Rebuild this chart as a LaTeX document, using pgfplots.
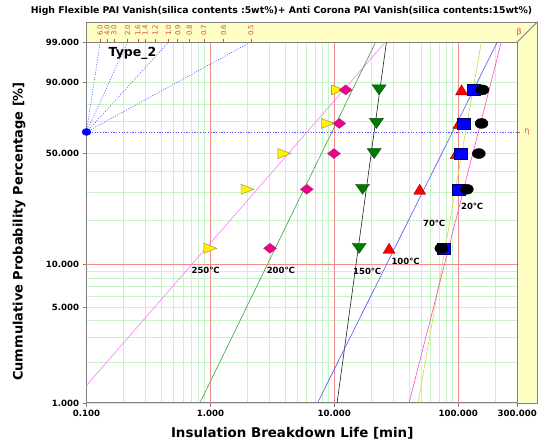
\documentclass[border=0pt]{standalone}
\usepackage{pgfplots}
\pgfplotsset{compat=1.18}
\usepackage{fontspec}
\setmainfont{DejaVu Sans}
\definecolor{bandyellow}{RGB}{255,255,196}
\definecolor{gridgreen}{RGB}{200,242,200}
\definecolor{gridred}{RGB}{240,140,140}
\definecolor{axgray}{RGB}{128,128,128}
\definecolor{betared}{RGB}{225,70,70}
\definecolor{dotblue}{RGB}{80,80,255}
\definecolor{lpink}{RGB}{255,120,255}
\definecolor{lgreen}{RGB}{60,160,60}
\definecolor{lblack}{RGB}{30,30,30}
\definecolor{lblue}{RGB}{80,80,255}
\definecolor{lyellow}{RGB}{215,215,60}
\definecolor{lmag}{RGB}{255,70,210}
\pgfdeclareplotmark{rtri}{\pgfpathmoveto{\pgfqpoint{-6.5pt}{5pt}}\pgfpathlineto{\pgfqpoint{6.5pt}{0pt}}\pgfpathlineto{\pgfqpoint{-6.5pt}{-5pt}}\pgfpathclose\pgfusepathqfillstroke}
\pgfdeclareplotmark{dtri}{\pgfpathmoveto{\pgfqpoint{-7pt}{5pt}}\pgfpathlineto{\pgfqpoint{7pt}{5pt}}\pgfpathlineto{\pgfqpoint{0pt}{-5pt}}\pgfpathclose\pgfusepathqfillstroke}
\pgfdeclareplotmark{utri}{\pgfpathmoveto{\pgfqpoint{-6pt}{-5pt}}\pgfpathlineto{\pgfqpoint{6pt}{-5pt}}\pgfpathlineto{\pgfqpoint{0pt}{5pt}}\pgfpathclose\pgfusepathqfillstroke}
\pgfdeclareplotmark{mydiam}{\pgfpathmoveto{\pgfqpoint{0pt}{5pt}}\pgfpathlineto{\pgfqpoint{6.5pt}{0pt}}\pgfpathlineto{\pgfqpoint{0pt}{-5pt}}\pgfpathlineto{\pgfqpoint{-6.5pt}{0pt}}\pgfpathclose\pgfusepathqfillstroke}
\pgfdeclareplotmark{mysq}{\pgfpathrectangle{\pgfqpoint{-6.5pt}{-5.5pt}}{\pgfqpoint{13pt}{11pt}}\pgfusepathqfillstroke}
\pgfdeclareplotmark{myell}{\pgfpathellipse{\pgfpointorigin}{\pgfqpoint{6.5pt}{0pt}}{\pgfqpoint{0pt}{5pt}}\pgfusepathqfillstroke}
\pgfdeclareplotmark{bdot}{\pgfpathellipse{\pgfpointorigin}{\pgfqpoint{4.5pt}{0pt}}{\pgfqpoint{0pt}{3.5pt}}\pgfusepathqfillstroke}
\begin{document}
\begin{tikzpicture}
\begin{axis}[
  scale only axis, width=430.8pt, height=361pt,
  xmode=log, xmin=0.1, xmax=300,
  ymin=-4.60015, ymax=1.52718,
  clip=false,
  axis line style={draw=axgray, line width=1pt},
  xtick={0.1,300}, xticklabels={0.100,300.000},
  extra x ticks={1,10,100}, extra x tick labels={1.000,10.000,100.000},
  extra x tick style={grid=major, major grid style={draw=gridred, line width=0.9pt}},
  minor xtick={0.2,0.3,0.4,0.5,0.6,0.7,0.8,0.9,2,3,4,5,6,7,8,9,20,30,40,50,60,70,80,90,200},
  xminorgrids=true, xmajorgrids=false,
  minor grid style={draw=gridgreen, line width=0.7pt},
  ytick={-4.60015,-2.97020,-0.366513,0.834032,1.52718},
  yticklabels={1.000,5.000,50.000,90.000,99.000},
  extra y ticks={-2.25037}, extra y tick labels={10.000},
  extra y tick style={grid=major, major grid style={draw=gridred, line width=0.9pt}},
  ymajorgrids=true, major grid style={draw=gridgreen, line width=0.7pt},
  minor ytick={-3.90194,-3.49137,-3.19853,-2.78263,-2.62319,-2.48433,-2.36117,-1.49994,-1.03093,-0.671727,0.185627,0.475885},
  yminorgrids=true,
  tick align=outside, major tick length=4pt, minor tick length=0pt,
  tick style={draw=axgray, line width=0.8pt},
  tick label style={font=\fontsize{8.6}{9}\selectfont\bfseries},
]
\coordinate (sw) at (rel axis cs:0,0);
\coordinate (ne) at (rel axis cs:1,1);
% frame band
\fill[bandyellow] (rel axis cs:0,1) -- ([shift={(0pt,20pt)}]rel axis cs:0,1) -- ([shift={(20pt,20pt)}]rel axis cs:1,1) -- ([shift={(20pt,0pt)}]rel axis cs:1,0) -- (rel axis cs:1,0) -- (rel axis cs:1,1) -- cycle;
\draw[axgray, line width=0.9pt] (rel axis cs:0,1) -- ([shift={(0pt,20pt)}]rel axis cs:0,1) -- ([shift={(20pt,20pt)}]rel axis cs:1,1) -- ([shift={(20pt,0pt)}]rel axis cs:1,0) -- (rel axis cs:1,0) -- (rel axis cs:1,1) -- cycle;
\draw[axgray, line width=0.8pt] (rel axis cs:1,1) -- ([shift={(20pt,20pt)}]rel axis cs:1,1);
% beta scale
\tikzset{betatick/.style={betared, line width=0.6pt}}
\draw[betatick] (axis cs:0.12899,1.52718) -- ([yshift=3pt]axis cs:0.12899,1.52718);
\draw[betatick] (axis cs:0.14649,1.52718) -- ([yshift=3pt]axis cs:0.14649,1.52718);
\draw[betatick] (axis cs:0.16637,1.52718) -- ([yshift=3pt]axis cs:0.16637,1.52718);
\draw[betatick] (axis cs:0.21460,1.52718) -- ([yshift=3pt]axis cs:0.21460,1.52718);
\draw[betatick] (axis cs:0.25973,1.52718) -- ([yshift=3pt]axis cs:0.25973,1.52718);
\draw[betatick] (axis cs:0.29767,1.52718) -- ([yshift=3pt]axis cs:0.29767,1.52718);
\draw[betatick] (axis cs:0.35702,1.52718) -- ([yshift=3pt]axis cs:0.35702,1.52718);
\draw[betatick] (axis cs:0.46052,1.52718) -- ([yshift=3pt]axis cs:0.46052,1.52718);
\draw[betatick] (axis cs:0.54565,1.52718) -- ([yshift=3pt]axis cs:0.54565,1.52718);
\draw[betatick] (axis cs:0.67461,1.52718) -- ([yshift=3pt]axis cs:0.67461,1.52718);
\draw[betatick] (axis cs:0.88615,1.52718) -- ([yshift=3pt]axis cs:0.88615,1.52718);
\draw[betatick] (axis cs:1.27469,1.52718) -- ([yshift=3pt]axis cs:1.27469,1.52718);
\draw[betatick] (axis cs:2.12076,1.52718) -- ([yshift=3pt]axis cs:2.12076,1.52718);
\tikzset{betalab/.style={rotate=90, anchor=west, inner sep=0pt, text=betared, font=\fontsize{7}{7}\selectfont}}
\node[betalab] at ([yshift=6pt]axis cs:0.12899,1.52718) {6.0};
\node[betalab] at ([yshift=6pt]axis cs:0.14649,1.52718) {4.0};
\node[betalab] at ([yshift=6pt]axis cs:0.16637,1.52718) {3.0};
\node[betalab] at ([yshift=6pt]axis cs:0.21460,1.52718) {2.0};
\node[betalab] at ([yshift=6pt]axis cs:0.25973,1.52718) {1.6};
\node[betalab] at ([yshift=6pt]axis cs:0.29767,1.52718) {1.4};
\node[betalab] at ([yshift=6pt]axis cs:0.35702,1.52718) {1.2};
\node[betalab] at ([yshift=6pt]axis cs:0.46052,1.52718) {1.0};
\node[betalab] at ([yshift=6pt]axis cs:0.54565,1.52718) {0.9};
\node[betalab] at ([yshift=6pt]axis cs:0.67461,1.52718) {0.8};
\node[betalab] at ([yshift=6pt]axis cs:0.88615,1.52718) {0.7};
\node[betalab] at ([yshift=6pt]axis cs:1.27469,1.52718) {0.6};
\node[betalab] at ([yshift=6pt]axis cs:2.12076,1.52718) {0.5};
\node[text=betared, font=\fontsize{8}{8}\selectfont, inner sep=0pt] at ([shift={(2pt,10pt)}]rel axis cs:1,1) {β};
\draw[betatick] (axis cs:300,0) -- ([xshift=3pt]axis cs:300,0);
\node[text=betared, font=\fontsize{8}{8}\selectfont, inner sep=0pt] at ([xshift=9.5pt]axis cs:300,0) {η};
% beta guide lines and eta line
\addplot[dotblue, line width=0.6pt, dash pattern=on 1pt off 1.5pt] coordinates {(0.1,0) (0.12899,1.52718)};
\addplot[dotblue, line width=0.6pt, dash pattern=on 1pt off 1.5pt] coordinates {(0.1,0) (0.21460,1.52718)};
\addplot[dotblue, line width=0.6pt, dash pattern=on 1pt off 1.5pt] coordinates {(0.1,0) (0.46052,1.52718)};
\addplot[dotblue, line width=0.6pt, dash pattern=on 1pt off 1.5pt] coordinates {(0.1,0) (2.12076,1.52718)};
\addplot[dotblue, line width=0.6pt, dash pattern=on 1.2pt off 1.5pt] coordinates {(0.1,0) (300,0)};
% data points
\addplot[only marks, mark=rtri, mark options={fill=yellow, draw=black!50!yellow, line width=0.4pt}] coordinates {(1.0,-1.97442) (1.995,-0.972685) (3.96,-0.366513) (8.85,0.144785) (10.7,0.714426)};
\addplot[only marks, mark=mydiam, mark options={fill=magenta, draw=magenta!70!black, line width=0.4pt}] coordinates {(3.03,-1.97442) (6.0,-0.972685) (9.94,-0.366513) (10.97,0.144785) (12.35,0.714426)};
\addplot[only marks, mark=dtri, mark options={fill=black!40!green!80!black, draw=black!70!green, line width=0.4pt}] coordinates {(15.89,-1.97442) (16.92,-0.972685) (20.99,-0.366513) (21.9,0.144785) (23.0,0.714426)};
\addplot[only marks, mark=utri, mark options={fill=red, draw=red!60!black, line width=0.4pt}] coordinates {(27.7,-1.97442) (48.9,-0.972685) (96.5,-0.366513) (101.3,0.144785) (106.5,0.714426)};
\addplot[only marks, mark=mysq, mark options={fill=blue, draw=blue!40!black, line width=0.4pt}] coordinates {(76.3,-1.97442) (101.3,-0.972685) (104.5,-0.366513) (110.5,0.144785) (133.0,0.714426)};
\addplot[only marks, mark=myell, mark options={fill=black, draw=black, line width=0.4pt}] coordinates {(73.1,-1.97442) (117.5,-0.972685) (146.7,-0.366513) (154.3,0.144785) (157.1,0.714426)};
% fitted lines
\addplot[lpink, line width=0.6pt] coordinates {(0.1,-4.3014) (25.87,1.52718)};
\addplot[lgreen, line width=0.6pt] coordinates {(0.823,-4.60015) (21.61,1.52718)};
\addplot[lblack, line width=0.6pt] coordinates {(10.53,-4.60015) (26.36,1.52718)};
\addplot[lblue, line width=0.6pt] coordinates {(7.320,-4.60015) (207.1,1.52718)};
\addplot[lyellow, line width=0.6pt] coordinates {(47.41,-4.60015) (153.8,1.52718)};
\addplot[lmag, line width=0.6pt] coordinates {(40.11,-4.60015) (223.0,1.52718)};
% eta point
\addplot[only marks, mark=bdot, mark options={fill=blue, draw=blue}] coordinates {(0.1,0)};
% labels
\tikzset{templab/.style={font=\fontsize{8.5}{9}\selectfont\bfseries, inner sep=0pt}}
\node[templab] at (axis cs:0.915,-2.3427) {250℃};
\node[templab] at (axis cs:3.70,-2.3427) {200℃};
\node[templab] at (axis cs:18.45,-2.3716) {150℃};
\node[templab] at (axis cs:37.6,-2.19) {100℃};
\node[templab] at (axis cs:64.0,-1.550) {70℃};
\node[templab] at (axis cs:129.7,-1.268) {20℃};
\node[font=\fontsize{12.5}{13}\selectfont\bfseries, inner sep=0pt] at (rel axis cs:0.1068,0.9695) {Type\_2};
\node[font=\fontsize{9.3}{10}\selectfont\bfseries, inner sep=0pt] at ([shift={(195pt,392pt)}]rel axis cs:0,0) {High Flexible PAI Vanish(silica contents :5wt\%)+ Anti Corona PAI Vanish(silica contents:15wt\%)};
\node[font=\fontsize{13.4}{14}\selectfont\bfseries, inner sep=0pt] at ([shift={(205.7pt,-30.6pt)}]rel axis cs:0,0) {Insulation Breakdown Life [min]};
\node[font=\fontsize{13}{14}\selectfont\bfseries, inner sep=0pt, rotate=90] at ([shift={(-67.5pt,171.5pt)}]rel axis cs:0,0) {Cummulative Probability Percentage [\%]};
\end{axis}
\pgfresetboundingbox
\useasboundingbox ([shift={(-86.5pt,-39pt)}]sw) rectangle ([shift={(23.7pt,42pt)}]ne);
\end{tikzpicture}
\end{document}
